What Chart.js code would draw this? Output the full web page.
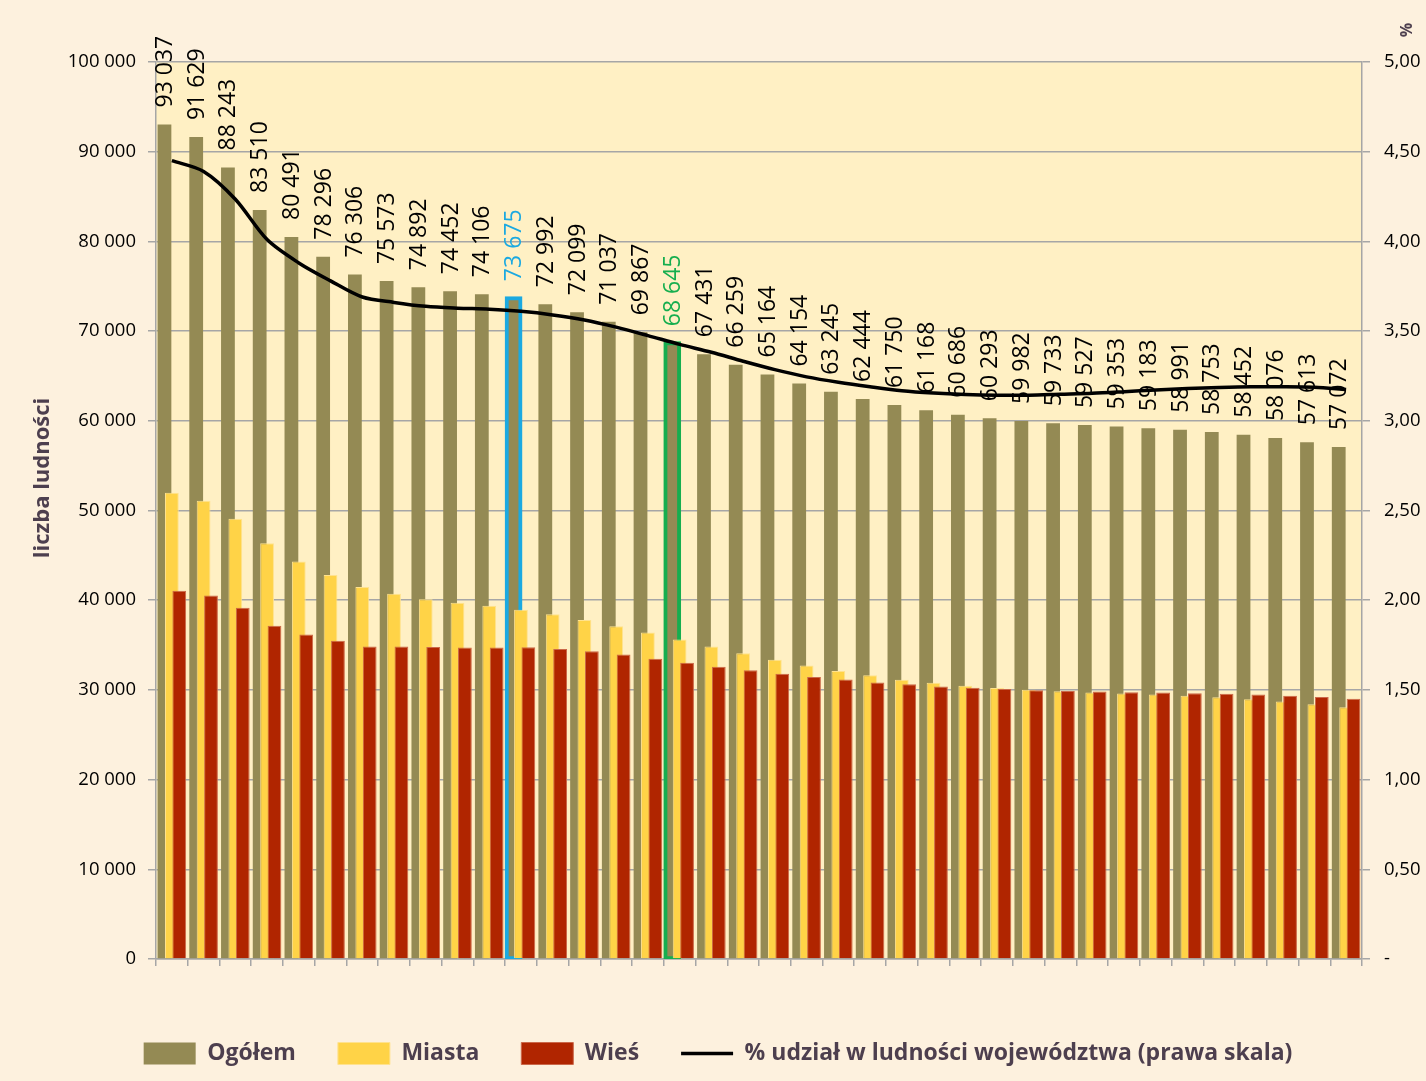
<!DOCTYPE html>
<html lang="pl">
<head>
<meta charset="utf-8">
<title>Liczba ludności</title>
<script src="https://cdn.jsdelivr.net/npm/chart.js@4.4.1/dist/chart.umd.min.js"></script>
<style>
    html, body { margin: 0; padding: 0; background: #FDF1DE; }
    #wrap { width: 1426px; height: 1081px; position: relative; }
</style>
</head>
<body>
<div id="wrap"><canvas id="chart"></canvas></div>
<script>
// kategorie (kolejne powiaty wg liczby ludności)
const kategorie = ['1', '2', '3', '4', '5', '6', '7', '8', '9', '10',
    '11', '12', '13', '14', '15', '16', '17', '18', '19', '20',
    '21', '22', '23', '24', '25', '26', '27', '28', '29', '30',
    '31', '32', '33', '34', '35', '36', '37', '38'];

// Ogółem
const ogolem = [93037, 91629, 88243, 83510, 80491, 78296, 76306, 75573, 74892, 74452,
    74106, 73675, 72992, 72099, 71037, 69867, 68645, 67431, 66259, 65164,
    64154, 63245, 62444, 61750, 61168, 60686, 60293, 59982, 59733, 59527,
    59353, 59183, 58991, 58753, 58452, 58076, 57613, 57072];

// Miasta
const miasta = [51980, 51100, 49080, 46360, 44310, 42820, 41480, 40720, 40110, 39710,
    39370, 38930, 38430, 37780, 37100, 36390, 35610, 34850, 34080, 33360,
    32720, 32100, 31620, 31130, 30790, 30450, 30200, 30010, 29860, 29720,
    29610, 29480, 29360, 29180, 28950, 28720, 28410, 28060];

// Wieś
const wies = [41050, 40530, 39160, 37150, 36180, 35480, 34830, 34850, 34780, 34740,
    34740, 34750, 34560, 34320, 33940, 33480, 33030, 32580, 32180, 31800,
    31430, 31150, 30820, 30620, 30380, 30240, 30090, 29970, 29870, 29810,
    29740, 29700, 29630, 29570, 29500, 29360, 29200, 29010];

// % udział w ludności województwa (prawa skala)
const udzial = [4.45, 4.39, 4.235, 4.01, 3.88, 3.78, 3.69, 3.66, 3.638, 3.628,
    3.622, 3.61, 3.59, 3.562, 3.522, 3.475, 3.426, 3.382, 3.332, 3.285,
    3.245, 3.215, 3.19, 3.168, 3.155, 3.147, 3.143, 3.143, 3.148, 3.153,
    3.162, 3.172, 3.18, 3.186, 3.19, 3.19, 3.187, 3.175];

// wyróżnione słupki (indeks -> kolor)
const wyroznione = { 11: '#1BA9E1', 16: '#16AE4F' };

const KOLOR_SIATKI = '#A6A6A6';
const KOLOR_TYTULU = '#4D3F4E';

function fmt(v) {
    return String(v).replace(/\B(?=(\d{3})+(?!\d))/g, ' ');
}

// tło, etykiety nad słupkami i tytuły osi
const dodatki = {
    id: 'dodatki',
    beforeDraw(chart) {
        const { ctx, chartArea: a } = chart;
        ctx.save();
        ctx.fillStyle = '#FDF1DE';
        ctx.fillRect(0, 0, chart.width, chart.height);
        ctx.fillStyle = '#FFF0C4';
        ctx.fillRect(a.left, a.top, a.right - a.left, a.bottom - a.top);
        ctx.restore();
    },
    afterDatasetDraw(chart, args) {
        if (args.index !== 0) return; // tylko Ogółem
        const ctx = chart.ctx;
        ctx.save();
        ctx.font = '23px "Open Sans"';
        ctx.textAlign = 'left';
        ctx.textBaseline = 'middle';
        args.meta.data.forEach((bar, i) => {
            ctx.save();
            ctx.translate(bar.x + 1, bar.y - 17);
            ctx.rotate(-Math.PI / 2);
            ctx.fillStyle = wyroznione[i] || '#000000';
            ctx.fillText(fmt(ogolem[i]), 0, 0);
            ctx.restore();
        });
        ctx.restore();
    },
    afterDraw(chart) {
        const ctx = chart.ctx;
        ctx.save();
        ctx.fillStyle = KOLOR_TYTULU;
        ctx.textAlign = 'center';
        ctx.textBaseline = 'middle';
        // tytuł lewej osi
        ctx.font = 'bold 22px "Open Sans"';
        ctx.translate(43, 478);
        ctx.rotate(-Math.PI / 2);
        ctx.fillText('liczba ludności', 0, 0);
        ctx.restore();
        // tytuł prawej osi
        ctx.save();
        ctx.fillStyle = KOLOR_TYTULU;
        ctx.textAlign = 'center';
        ctx.textBaseline = 'middle';
        ctx.font = 'bold 16px "Open Sans"';
        ctx.translate(1405, 30);
        ctx.rotate(Math.PI / 2);
        ctx.fillText('%', 0, 0);
        ctx.restore();
    }
};

const ctx = document.getElementById('chart').getContext('2d');
const chart = new Chart(ctx, {
    type: 'bar',
    data: {
        labels: kategorie,
        datasets: [
            {
                label: 'Ogółem',
                data: ogolem,
                backgroundColor: '#948A54',
                borderColor: ogolem.map((v, i) => wyroznione[i] || '#948A54'),
                borderWidth: ogolem.map((v, i) => wyroznione[i] ? 4 : 0),
                borderSkipped: false,
                inflateAmount: (c) => wyroznione[c.dataIndex] ? 2 : 'auto',
                stack: 'a',
                order: 2,
                pointStyle: 'rect'
            },
            {
                label: 'Miasta',
                data: miasta,
                backgroundColor: '#FFD347',
                borderColor: '#FFE28E',
                borderWidth: 1,
                stack: 'b',
                order: 1,
                pointStyle: 'rect'
            },
            {
                label: 'Wieś',
                data: wies,
                backgroundColor: '#B02500',
                borderColor: '#CB684A',
                borderWidth: 1,
                stack: 'c',
                order: 0,
                pointStyle: 'rect'
            },
            {
                type: 'line',
                label: '% udział w ludności województwa (prawa skala)',
                data: udzial,
                yAxisID: 'y1',
                borderColor: '#000000',
                backgroundColor: '#000000',
                borderWidth: 3.5,
                pointRadius: 0,
                tension: 0.3,
                order: -20,
                pointStyle: 'line'
            },
            // puste serie - tylko ustalają kolejność słupków w grupie (Ogółem, Miasta, Wieś)
            { label: '', data: [], stack: 'a', order: -10 },
            { label: '', data: [], stack: 'b', order: -9 }
        ]
    },
    options: {
        responsive: true,
        maintainAspectRatio: false,
        animation: false,
        layout: { padding: { left: 10, right: 0, top: 62, bottom: 6 } },
        datasets: {
            bar: {
                categoryPercentage: 0.70,
                barPercentage: 1.86
            }
        },
        plugins: {
            tooltip: { enabled: false },
            legend: {
                position: 'bottom',
                labels: {
                    usePointStyle: true,
                    pointStyleWidth: 52,
                    boxHeight: 22,
                    padding: 42,
                    color: KOLOR_TYTULU,
                    font: { family: '"Open Sans"', size: 23, weight: 'bold' },
                    filter: (item) => item.text !== '',
                    sort: (a, b) => a.datasetIndex - b.datasetIndex
                }
            }
        },
        scales: {
            x: {
                offset: true,
                afterFit: (s) => { s.height = 41; },
                ticks: { display: false },
                grid: {
                    offset: true,
                    drawOnChartArea: false,
                    drawTicks: true,
                    tickLength: 7,
                    color: KOLOR_SIATKI,
                    lineWidth: 1.5
                },
                border: { color: KOLOR_SIATKI, width: 1.5 }
            },
            y: {
                position: 'left',
                min: 0,
                max: 100000,
                stacked: false,
                afterFit: (s) => { s.width = 146; },
                ticks: {
                    stepSize: 10000,
                    padding: 12,
                    color: '#000000',
                    font: { family: '"Open Sans"', size: 18.5 },
                    callback: (v) => fmt(v)
                },
                grid: {
                    color: KOLOR_SIATKI,
                    lineWidth: 1.5,
                    tickLength: 8
                },
                border: { color: KOLOR_SIATKI, width: 1.5 }
            },
            y1: {
                position: 'right',
                min: 0,
                max: 5,
                afterFit: (s) => { s.width = 64; },
                ticks: {
                    stepSize: 0.5,
                    padding: 14,
                    color: '#000000',
                    font: { family: '"Open Sans"', size: 18.5 },
                    callback: (v) => v === 0 ? '-' : v.toFixed(2).replace('.', ',')
                },
                grid: {
                    drawOnChartArea: false,
                    color: KOLOR_SIATKI,
                    lineWidth: 1.5,
                    tickLength: 8
                },
                border: { color: KOLOR_SIATKI, width: 1.5 }
            }
        }
    },
    plugins: [dodatki]
});
</script>
</body>
</html>
